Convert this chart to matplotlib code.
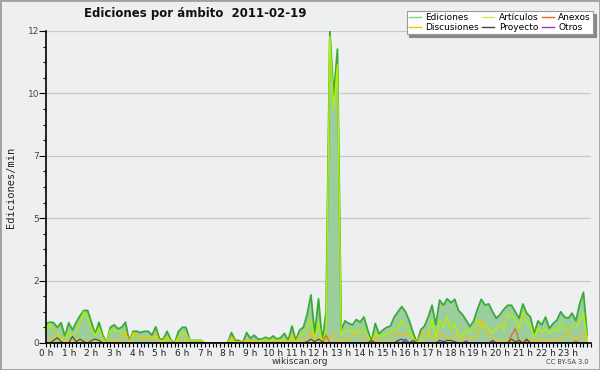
import numpy as np
import matplotlib
matplotlib.use("Agg")
import matplotlib.pyplot as plt
from matplotlib.lines import Line2D
from matplotlib.patches import Rectangle
from matplotlib.ticker import FixedLocator, FixedFormatter, MultipleLocator

# ---- data (10-minute bins, edits per minute) ----
ediciones = [
    0.75, 0.8, 0.78, 0.6, 0.78, 0.25,
    0.78, 0.5, 0.8, 1.05, 1.25, 1.25,
    0.8, 0.35, 0.8, 0.3, 0.0, 0.6,
    0.7, 0.55, 0.6, 0.8, 0.05, 0.45,
    0.45, 0.4, 0.45, 0.45, 0.3, 0.62,
    0.15, 0.15, 0.45, 0.1, 0.0, 0.45,
    0.6, 0.6, 0.1, 0.1, 0.1, 0.1,
    0.0, 0.0, 0.0, 0.0, 0.0, 0.0,
    0.0, 0.4, 0.1, 0.1, 0.0, 0.4,
    0.18, 0.3, 0.15, 0.15, 0.22, 0.15,
    0.27, 0.15, 0.2, 0.37, 0.1, 0.65,
    0.1, 0.5, 0.6, 1.1, 1.85, 0.35,
    1.7, 0.05, 1.2, 12.0, 9.5, 11.3,
    0.5, 0.85, 0.75, 0.7, 0.9, 0.8,
    1.0, 0.5, 0.05, 0.75, 0.35, 0.5,
    0.6, 0.65, 1.0, 1.2, 1.4, 1.2,
    0.85, 0.4, 0.0, 0.5, 0.65, 1.0,
    1.45, 0.7, 1.65, 1.45, 1.7, 1.55,
    1.68, 1.25, 1.1, 0.88, 0.63, 0.85,
    1.3, 1.68, 1.46, 1.5, 1.2, 0.95,
    1.1, 1.3, 1.45, 1.45, 1.2, 0.95,
    1.5, 1.15, 1.0, 0.37, 0.85, 0.7,
    1.0, 0.56, 0.75, 0.88, 1.2, 1.0,
    0.95, 1.15, 0.85, 1.5, 1.95, 0.3,
]
articulos = [
    0.45, 0.75, 0.45, 0.4, 0.1, 0.2,
    0.45, 0.2, 0.4, 0.8, 1.2, 1.0,
    0.55, 0.3, 0.55, 0.2, 0.0, 0.5,
    0.5, 0.45, 0.4, 0.35, 0.05, 0.3,
    0.25, 0.15, 0.25, 0.2, 0.15, 0.25,
    0.1, 0.1, 0.25, 0.05, 0.0, 0.25,
    0.35, 0.35, 0.1, 0.1, 0.1, 0.1,
    0.0, 0.0, 0.0, 0.0, 0.0, 0.0,
    0.0, 0.1, 0.05, 0.05, 0.0, 0.1,
    0.05, 0.1, 0.05, 0.1, 0.15, 0.1,
    0.15, 0.1, 0.1, 0.15, 0.05, 0.2,
    0.05, 0.3, 0.35, 0.6, 0.9, 0.15,
    0.8, 0.0, 0.5, 11.8, 9.0, 10.7,
    0.3, 0.45, 0.5, 0.4, 0.5, 0.4,
    0.55, 0.3, 0.0, 0.4, 0.25, 0.3,
    0.35, 0.4, 0.5, 0.6, 0.85, 0.6,
    0.45, 0.2, 0.0, 0.1, 0.15, 0.3,
    0.9, 0.2, 0.85, 0.6, 1.0, 0.5,
    0.75, 0.3, 0.25, 0.5, 0.4, 0.5,
    0.9, 0.65, 0.75, 0.5, 0.4, 0.55,
    0.7, 0.5, 1.1, 1.05, 0.9, 0.55,
    1.2, 0.8, 0.7, 0.2, 0.6, 0.4,
    0.55, 0.35, 0.5, 0.45, 0.75, 0.5,
    0.5, 0.65, 0.6, 0.85, 1.15, 0.2,
]
discusiones = [
    0.0, 0.1, 0.15, 0.3, 0.1, 0.05,
    0.1, 0.05, 0.2, 0.1, 0.05, 0.05,
    0.15, 0.1, 0.15, 0.05, 0.0, 0.05,
    0.1, 0.05, 0.15, 0.45, 0.0, 0.4,
    0.3, 0.15, 0.2, 0.25, 0.1, 0.4,
    0.05, 0.05, 0.15, 0.05, 0.0, 0.1,
    0.15, 0.15, 0.0, 0.0, 0.0, 0.0,
    0.0, 0.0, 0.0, 0.0, 0.0, 0.0,
    0.0, 0.25, 0.05, 0.05, 0.0, 0.15,
    0.05, 0.1, 0.05, 0.05, 0.0, 0.05,
    0.05, 0.0, 0.05, 0.1, 0.0, 0.35,
    0.0, 0.1, 0.15, 0.05, 0.45, 0.1,
    0.2, 0.0, 0.1, 0.1, 0.35, 0.1,
    0.05, 0.2, 0.1, 0.3, 0.4, 0.2,
    0.15, 0.1, 0.0, 0.25, 0.05, 0.1,
    0.1, 0.15, 0.3, 0.35, 0.3, 0.3,
    0.3, 0.1, 0.0, 0.3, 0.45, 0.4,
    0.2, 0.1, 0.35, 0.3, 0.2, 0.15,
    0.3, 0.25, 0.05, 0.2, 0.15, 0.2,
    0.25, 0.85, 0.4, 0.4, 0.15, 0.1,
    0.1, 0.1, 0.05, 0.15, 0.1, 0.1,
    0.05, 0.1, 0.15, 0.05, 0.1, 0.15,
    0.1, 0.05, 0.1, 0.15, 0.2, 0.2,
    0.4, 0.25, 0.15, 0.2, 0.35, 0.05,
]
proyecto = [
    0.0, 0.0, 0.1, 0.2, 0.05, 0.0,
    0.0, 0.25, 0.05, 0.15, 0.05, 0.0,
    0.1, 0.15, 0.1, 0.0, 0.0, 0.0,
    0.0, 0.0, 0.0, 0.0, 0.0, 0.0,
    0.0, 0.0, 0.0, 0.0, 0.0, 0.0,
    0.0, 0.0, 0.0, 0.0, 0.0, 0.0,
    0.0, 0.0, 0.0, 0.0, 0.0, 0.0,
    0.0, 0.0, 0.0, 0.0, 0.0, 0.0,
    0.0, 0.0, 0.0, 0.0, 0.0, 0.0,
    0.0, 0.0, 0.0, 0.0, 0.0, 0.0,
    0.0, 0.0, 0.0, 0.0, 0.0, 0.0,
    0.0, 0.0, 0.0, 0.05, 0.15, 0.05,
    0.15, 0.05, 0.0, 0.0, 0.0, 0.0,
    0.0, 0.0, 0.0, 0.0, 0.0, 0.0,
    0.0, 0.0, 0.1, 0.0, 0.0, 0.0,
    0.0, 0.0, 0.0, 0.1, 0.15, 0.05,
    0.0, 0.1, 0.0, 0.0, 0.0, 0.0,
    0.0, 0.0, 0.1, 0.05, 0.1, 0.1,
    0.05, 0.0, 0.0, 0.0, 0.0, 0.0,
    0.0, 0.0, 0.0, 0.0, 0.1, 0.0,
    0.0, 0.0, 0.0, 0.15, 0.05, 0.1,
    0.0, 0.15, 0.0, 0.0, 0.0, 0.0,
    0.0, 0.0, 0.0, 0.0, 0.0, 0.0,
    0.0, 0.0, 0.0, 0.0, 0.0, 0.0,
]
anexos = [0.0] * 144
for idx, v in [(74, 0.3), (93, 0.05), (123, 0.3), (124, 0.55), (125, 0.1), (127, 0.1), (140, 0.08)]:
    anexos[idx] = v
otros = [0.0] * 144
for idx, v in [(95, 0.15), (111, 0.08)]:
    otros[idx] = v

horas = np.arange(144) / 6.0
hour_ticks = list(range(24))
hour_labels = [f"{h} h" for h in hour_ticks]
y_ticks = [0, 2.4, 4.8, 7.2, 9.6, 12.0]
y_labels = ["0", "2", "5", "7", "10", "12"]

BG = "#eeeff0"
C_ED_LINE = "#3aaa3a"
C_ED_FILL = "#9ccd9c"
C_ED_LEG = "#88cc88"
C_ART = "#b0f000"
C_ANX = "#ee6622"
C_DIS = "#f5c010"
C_PRO = "#444444"
C_OTR = "#8a3ae0"

fig = plt.figure(figsize=(6.0, 3.7), dpi=100, facecolor=BG)
ax = fig.add_axes([46 / 600, 1 - 343 / 370, 545 / 600, 312 / 370], facecolor=BG)

ax.fill_between(horas, 0, ediciones, color=C_ED_FILL, lw=0, zorder=2)
ax.plot(horas, ediciones, color=C_ED_LINE, lw=1.3, zorder=3)
ax.plot(horas, articulos, color=C_ART, lw=1.0, zorder=4)
ax.plot(horas, discusiones, color=C_DIS, lw=0.9, zorder=5)
ax.plot(horas, anexos, color=C_ANX, lw=0.9, zorder=6)
ax.plot(horas, proyecto, color=C_PRO, lw=0.8, zorder=6)
ax.plot(horas, otros, color=C_OTR, lw=0.9, zorder=7)

ax.set_xlim(0, 24)
ax.set_ylim(0, 12)
ax.yaxis.set_major_locator(FixedLocator(y_ticks))
ax.yaxis.set_major_formatter(FixedFormatter(y_labels))
ax.yaxis.set_minor_locator(MultipleLocator(0.6))
ax.xaxis.set_major_locator(FixedLocator(hour_ticks))
ax.xaxis.set_major_formatter(FixedFormatter(hour_labels))
ax.xaxis.set_minor_locator(MultipleLocator(1 / 6))

ax.grid(axis="y", which="major", color="#c8c8c8", lw=0.9, zorder=1)
for s in ["top", "right"]:
    ax.spines[s].set_visible(False)
for s in ["left", "bottom"]:
    ax.spines[s].set_color("black")
    ax.spines[s].set_linewidth(1.2)
    ax.spines[s].set_zorder(8)

ax.tick_params(axis="y", which="major", length=5, width=0.8, labelsize=6.5,
               labelcolor="#444444", pad=0)
ax.tick_params(axis="y", which="minor", length=2.5, width=0.8)
ax.tick_params(axis="x", which="major", length=3, width=0.8, labelsize=6.5,
               labelcolor="#222222", pad=1)
ax.tick_params(axis="x", which="minor", length=3, width=0.8)

ax.set_ylabel("Ediciones/min", family="DejaVu Sans Mono", fontsize=7.5,
              color="#222222", labelpad=8)

fig.text(195 / 600, 1 - 14 / 370, "Ediciones por ámbito  2011-02-19",
         ha="center", va="center", fontsize=8.5, fontweight="bold",
         family="DejaVu Sans", color="#111111")
fig.text(300 / 600, 1 - 361 / 370, "wikiscan.org", ha="center", va="center",
         fontsize=6.5, color="#333333")
fig.text(589 / 600, 1 - 362 / 370, "CC BY-SA 3.0", ha="right", va="center",
         fontsize=4.8, color="#444444")

handles = [
    Line2D([], [], color=C_ED_LEG, lw=1),
    Line2D([], [], color=C_DIS, lw=1),
    Line2D([], [], color="#c8f050", lw=1),
    Line2D([], [], color=C_PRO, lw=1),
    Line2D([], [], color=C_ANX, lw=1),
    Line2D([], [], color=C_OTR, lw=1),
]
labels = ["Ediciones", "Discusiones", "Artículos", "Proyecto", "Anexos", "Otros"]
leg = fig.legend(handles, labels, ncol=3, loc="upper right",
                 bbox_to_anchor=(593 / 600, 1 - 11 / 370), fontsize=6.5,
                 frameon=True, fancybox=False, shadow={"color": "#888888", "alpha": 1},
                 edgecolor="#9a9a9a", facecolor="white", framealpha=1,
                 handlelength=1.3, handletextpad=0.5, columnspacing=0.4,
                 labelspacing=0.05, borderpad=0.25, borderaxespad=0)
leg.get_frame().set_linewidth(0.8)

fig.patches.append(Rectangle((0, 0), 1, 1, transform=fig.transFigure, fill=False,
                             edgecolor="#a0a0a0", lw=2, zorder=20))

fig.savefig("out.png", dpi=100, facecolor=BG)
